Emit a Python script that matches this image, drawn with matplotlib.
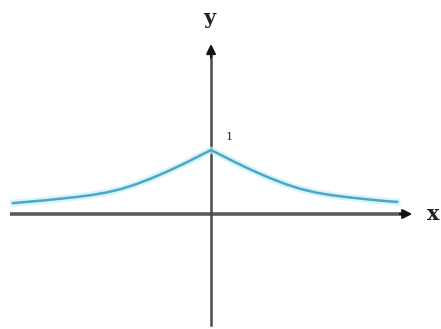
import numpy as np
import matplotlib.pyplot as plt

# punkty (x w jednostkach osi, y wzgledem szczytu = 1)
xs = [-3.3, -3.0, -2.75, -2.5, -2.25, -2.0, -1.75, -1.5, -1.25, -1.0, -0.8, -0.6, -0.4, -0.2,
      0.0, 0.2, 0.4, 0.6, 0.8, 1.0, 1.25, 1.5, 1.75, 2.0, 2.25, 2.5, 2.75, 3.0, 3.1]
ys = [0.17, 0.195, 0.215, 0.24, 0.265, 0.295, 0.335, 0.39, 0.465, 0.555, 0.635, 0.72, 0.81, 0.905,
      1.0, 0.905, 0.81, 0.72, 0.635, 0.555, 0.465, 0.39, 0.335, 0.295, 0.265, 0.24, 0.215, 0.195, 0.19]
peak_label = '1'

fig = plt.figure(figsize=(4.41, 3.29), dpi=100)
ax = fig.add_axes([0, 0, 1, 1])
ax.set_xlim(-3.517, 3.833)
ax.set_ylim(-1.797, 3.344)
ax.axis('off')

# osie ze strzalkami
ax.plot([-3.35, 3.2], [0, 0], color='#5a5a5a', lw=2.6, solid_capstyle='butt', zorder=1)
ax.annotate('', xy=(3.4, 0), xytext=(3.1, 0),
            arrowprops=dict(arrowstyle='-|>', color='#111111', lw=1.5, mutation_scale=14))
ax.plot([0, 0], [-1.73, 2.5], color='#4a4a4a', lw=1.8, zorder=1)
ax.annotate('', xy=(0, 2.7), xytext=(0, 2.4),
            arrowprops=dict(arrowstyle='-|>', color='#111111', lw=1.5, mutation_scale=14))

# krzywa z poswiata
ax.plot(xs, ys, color='#c8f0f8', lw=5, alpha=0.7, zorder=2, solid_joinstyle='round')
ax.plot(xs, ys, color='#4aa8c6', lw=1.8, zorder=3, solid_joinstyle='round')

ax.text(-0.03, 3.06, 'y', fontsize=15, fontweight='bold', family='DejaVu Serif',
        ha='center', va='center', color='#222222')
ax.text(3.7, 0.0, 'x', fontsize=15, fontweight='bold', family='DejaVu Serif',
        ha='center', va='center', color='#222222')
ax.text(0.3, 1.2, peak_label, fontsize=8, family='DejaVu Serif',
        ha='center', va='center', color='#333333')

fig.savefig('out.png', dpi=100)
